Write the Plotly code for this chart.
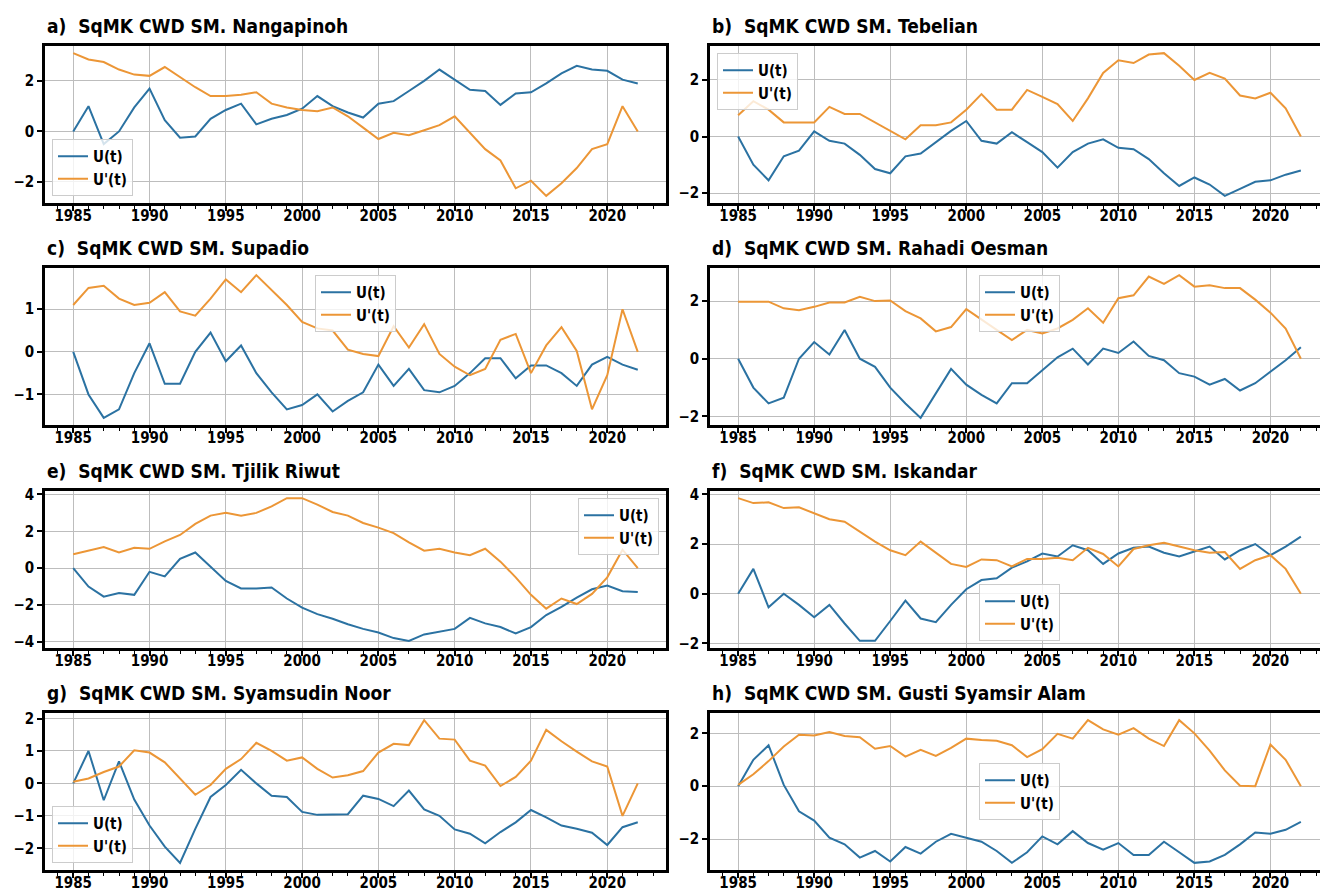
import plotly.graph_objects as go

years = list(range(1985, 2023))

titles = [
    "a)  SqMK CWD SM. Nangapinoh",
    "b)  SqMK CWD SM. Tebelian",
    "c)  SqMK CWD SM. Supadio",
    "d)  SqMK CWD SM. Rahadi Oesman",
    "e)  SqMK CWD SM. Tjilik Riwut",
    "f)  SqMK CWD SM. Iskandar",
    "g)  SqMK CWD SM. Syamsudin Noor",
    "h)  SqMK CWD SM. Gusti Syamsir Alam",
]

a_u = [0, 1.0, -0.5, 0.0, 0.95, 1.7, 0.45, -0.25, -0.2, 0.5, 0.85, 1.1, 0.28, 0.5, 0.65, 0.9, 1.4, 1.0, 0.75,
       0.55, 1.1, 1.2, 1.6, 2.0, 2.45, 2.05, 1.65, 1.6, 1.05, 1.5, 1.55, 1.9, 2.3, 2.6, 2.45, 2.4, 2.05, 1.9]
a_up = [3.1, 2.85, 2.75, 2.45, 2.25, 2.2, 2.55, 2.15, 1.75, 1.4, 1.4, 1.45, 1.55, 1.1, 0.95, 0.85, 0.8, 0.95, 0.6,
        0.15, -0.3, -0.05, -0.15, 0.05, 0.25, 0.6, -0.05, -0.7, -1.15, -2.25, -1.95, -2.55, -2.05, -1.45, -0.7,
        -0.5, 1.0, 0.0]

b_u = [0, -1.0, -1.55, -0.7, -0.5, 0.18, -0.15, -0.25, -0.65, -1.15, -1.3, -0.7, -0.6, -0.2, 0.2, 0.55, -0.15,
       -0.25, 0.15, -0.2, -0.55, -1.1, -0.55, -0.25, -0.1, -0.4, -0.45, -0.8, -1.3, -1.75, -1.45, -1.7, -2.1,
       -1.85, -1.6, -1.55, -1.35, -1.2]
b_up = [0.75, 1.25, 0.95, 0.5, 0.5, 0.5, 1.05, 0.8, 0.8, 0.5, 0.2, -0.1, 0.4, 0.4, 0.5, 0.95, 1.5, 0.95, 0.95,
        1.65, 1.4, 1.15, 0.55, 1.35, 2.25, 2.7, 2.6, 2.9, 2.95, 2.5, 2.0, 2.25, 2.05, 1.45, 1.35, 1.55, 1.0, 0.0]

c_u = [0, -1.0, -1.55, -1.35, -0.5, 0.2, -0.75, -0.75, 0.0, 0.45, -0.22, 0.15, -0.5, -0.95, -1.35, -1.25, -1.0,
       -1.4, -1.15, -0.95, -0.3, -0.8, -0.4, -0.9, -0.95, -0.8, -0.5, -0.15, -0.15, -0.62, -0.32, -0.32, -0.5,
       -0.8, -0.3, -0.12, -0.3, -0.42]
c_up = [1.1, 1.5, 1.55, 1.25, 1.1, 1.15, 1.4, 0.95, 0.85, 1.25, 1.7, 1.4, 1.8, 1.45, 1.1, 0.7, 0.55, 0.5, 0.05,
        -0.05, -0.1, 0.6, 0.1, 0.65, -0.05, -0.35, -0.55, -0.4, 0.28, 0.42, -0.5, 0.15, 0.58, 0.02, -1.35, -0.55,
        1.0, 0.0]

d_u = [0, -1.0, -1.55, -1.35, 0.0, 0.58, 0.15, 1.0, 0.0, -0.28, -1.0, -1.55, -2.05, -1.2, -0.35, -0.9, -1.25,
       -1.55, -0.85, -0.85, -0.4, 0.05, 0.35, -0.2, 0.35, 0.2, 0.6, 0.1, -0.05, -0.5, -0.62, -0.9, -0.7, -1.1,
       -0.85, -0.45, -0.05, 0.4]
d_up = [1.98, 1.98, 1.98, 1.75, 1.68, 1.8, 1.95, 1.95, 2.15, 2.0, 2.02, 1.65, 1.4, 0.95, 1.1, 1.72, 1.35, 1.0,
        0.65, 1.0, 0.88, 1.05, 1.35, 1.75, 1.25, 2.1, 2.2, 2.85, 2.6, 2.9, 2.5, 2.55, 2.45, 2.45, 2.05, 1.6, 1.05,
        0.0]

e_u = [0, -1.0, -1.55, -1.35, -1.45, -0.2, -0.45, 0.5, 0.85, 0.05, -0.7, -1.1, -1.1, -1.05, -1.65, -2.15, -2.5,
       -2.75, -3.05, -3.3, -3.5, -3.8, -3.95, -3.6, -3.45, -3.3, -2.7, -3.0, -3.2, -3.55, -3.2, -2.55, -2.1,
       -1.6, -1.15, -0.95, -1.25, -1.3]
e_up = [0.75, 0.95, 1.15, 0.85, 1.1, 1.05, 1.45, 1.8, 2.4, 2.85, 3.0, 2.85, 3.0, 3.35, 3.8, 3.8, 3.45, 3.05,
        2.85, 2.45, 2.2, 1.9, 1.4, 0.95, 1.05, 0.85, 0.7, 1.05, 0.35, -0.5, -1.45, -2.2, -1.65, -1.95, -1.4,
        -0.5, 1.0, 0.0]

f_u = [0, 1.0, -0.55, 0.0, -0.45, -0.95, -0.45, -1.2, -1.9, -1.9, -1.1, -0.28, -1.0, -1.15, -0.45, 0.18, 0.55,
       0.62, 1.05, 1.3, 1.62, 1.5, 1.95, 1.75, 1.2, 1.62, 1.85, 1.9, 1.65, 1.5, 1.7, 1.9, 1.38, 1.75, 2.0, 1.55,
       1.9, 2.3]
f_up = [3.85, 3.65, 3.68, 3.45, 3.48, 3.25, 3.0, 2.9, 2.5, 2.1, 1.75, 1.55, 2.1, 1.65, 1.2, 1.08, 1.38, 1.35,
        1.1, 1.4, 1.4, 1.45, 1.35, 1.85, 1.6, 1.1, 1.8, 1.95, 2.05, 1.9, 1.75, 1.65, 1.68, 1.0, 1.35, 1.55, 1.0,
        0.0]

g_u = [0, 1.0, -0.52, 0.68, -0.5, -1.3, -1.95, -2.45, -1.4, -0.42, -0.05, 0.42, 0.0, -0.38, -0.42, -0.88, -0.97,
       -0.95, -0.95, -0.38, -0.48, -0.7, -0.22, -0.8, -1.0, -1.42, -1.55, -1.85, -1.5, -1.2, -0.82, -1.05, -1.3,
       -1.4, -1.52, -1.9, -1.35, -1.2]
g_up = [0.05, 0.15, 0.35, 0.52, 1.02, 0.95, 0.65, 0.15, -0.35, -0.05, 0.45, 0.75, 1.25, 1.0, 0.7, 0.8, 0.45,
        0.18, 0.25, 0.38, 0.95, 1.22, 1.18, 1.95, 1.38, 1.35, 0.7, 0.55, -0.08, 0.2, 0.7, 1.65, 1.3, 0.98, 0.68,
        0.52, -1.0, 0.0]

h_u = [0, 1.0, 1.55, 0.05, -0.95, -1.3, -1.95, -2.2, -2.7, -2.45, -2.85, -2.3, -2.55, -2.1, -1.8, -1.95, -2.1,
       -2.45, -2.9, -2.5, -1.9, -2.2, -1.7, -2.15, -2.4, -2.15, -2.6, -2.6, -2.1, -2.5, -2.9, -2.85, -2.6, -2.2,
       -1.75, -1.8, -1.65, -1.35]
h_up = [0.05, 0.45, 0.95, 1.5, 1.95, 1.92, 2.05, 1.9, 1.85, 1.42, 1.52, 1.12, 1.38, 1.15, 1.45, 1.8, 1.75, 1.72,
        1.55, 1.1, 1.4, 1.98, 1.8, 2.5, 2.15, 1.95, 2.2, 1.8, 1.52, 2.5, 2.0, 1.35, 0.6, 0.02, 0.0, 1.58, 1.0, 0.0]

u_series = [a_u, b_u, c_u, d_u, e_u, f_u, g_u, h_u]
up_series = [a_up, b_up, c_up, d_up, e_up, f_up, g_up, h_up]
y_dticks = [2, 2, 1, 2, 2, 2, 1, 2]
legend_locs = ["lower left", "upper left", "upper center", "upper center",
               "upper right", "lower center", "lower left", "center"]

# ---------- layout geometry (pixels) ----------
W, H = 1328, 891
col_px = [(37, 658), (702, 1321)]
row_px = [(38, 195), (260, 417), (483, 640), (705, 862)]
BLUE = "#2b72a2"
ORANGE = "#ec9636"
FONT = "DejaVu Sans Condensed, DejaVu Sans"

fig = go.Figure()
layout = dict(
    width=W, height=H,
    margin=dict(l=0, r=0, t=0, b=0),
    paper_bgcolor="white", plot_bgcolor="white",
    showlegend=True,
    font=dict(family=FONT, color="black"),
    annotations=[],
)

pad = 7
for i in range(8):
    r, c = divmod(i, 2)
    x0p, x1p = col_px[c]
    y0p, y1p = row_px[r]
    dx = [x0p / W, x1p / W]
    dy = [1 - y1p / H, 1 - y0p / H]
    k = "" if i == 0 else str(i + 1)
    leg = "legend" if i == 0 else f"legend{i + 1}"

    fig.add_trace(go.Scatter(x=years, y=u_series[i], mode="lines", name="U(t)",
                             line=dict(color=BLUE, width=2), xaxis="x" + k, yaxis="y" + k,
                             legend=leg))
    fig.add_trace(go.Scatter(x=years, y=up_series[i], mode="lines", name="U'(t)",
                             line=dict(color=ORANGE, width=2), xaxis="x" + k, yaxis="y" + k,
                             legend=leg))

    allv = u_series[i] + up_series[i]
    lo, hi = min(allv), max(allv)
    m = 0.05 * (hi - lo)
    xm = 0.05 * (years[-1] - years[0])

    layout["xaxis" + k] = dict(
        domain=dx, anchor="y" + k, range=[years[0] - xm, years[-1] + xm],
        tick0=1985, dtick=5, ticks="outside", ticklen=5, tickwidth=1.5, tickcolor="black",
        ticklabelstandoff=-8,
        showgrid=True, gridcolor="#bdbdbd", gridwidth=1,
        showline=True, linecolor="black", linewidth=2.5, mirror=True,
        zeroline=False, automargin=False,
        tickfont=dict(family=FONT, size=15, color="black", weight="bold"),
        minor=dict(dtick=1, tick0=1985, ticks="outside", ticklen=3, tickwidth=1, tickcolor="black",
                   showgrid=False),
    )
    layout["yaxis" + k] = dict(
        domain=dy, anchor="x" + k, range=[lo - m, hi + m],
        tick0=0, dtick=y_dticks[i], ticks="outside", ticklen=5, tickwidth=1.5, tickcolor="black",
        showgrid=True, gridcolor="#bdbdbd", gridwidth=1,
        showline=True, linecolor="black", linewidth=2.5, mirror=True,
        zeroline=False, automargin=False,
        tickfont=dict(family=FONT, size=15, color="black", weight="bold"),
    )

    layout["annotations"].append(dict(
        text=titles[i], xref="paper", yref="paper", x=dx[0], y=dy[1],
        xanchor="left", yanchor="bottom", yshift=7, showarrow=False,
        font=dict(family=FONT, size=19, color="black", weight="bold"),
    ))

    loc = legend_locs[i]
    if "left" in loc:
        lx, xa = (x0p + pad) / W, "left"
    elif "right" in loc:
        lx, xa = (x1p - pad) / W, "right"
    else:
        lx, xa = (x0p + x1p) / 2 / W, "center"
    if "upper" in loc:
        ly, ya = 1 - (y0p + pad) / H, "top"
    elif "lower" in loc:
        ly, ya = 1 - (y1p - pad) / H, "bottom"
    else:
        ly, ya = 1 - (y0p + y1p) / 2 / H, "middle"
    layout[leg] = dict(
        x=lx, y=ly, xanchor=xa, yanchor=ya, xref="paper", yref="paper",
        bgcolor="rgba(255,255,255,0.8)", bordercolor="#cccccc", borderwidth=1,
        font=dict(family=FONT, size=15, color="black", weight="bold"),
        itemwidth=30, tracegroupgap=0,
    )

fig.update_layout(**layout)
fig.write_html("out.html")
